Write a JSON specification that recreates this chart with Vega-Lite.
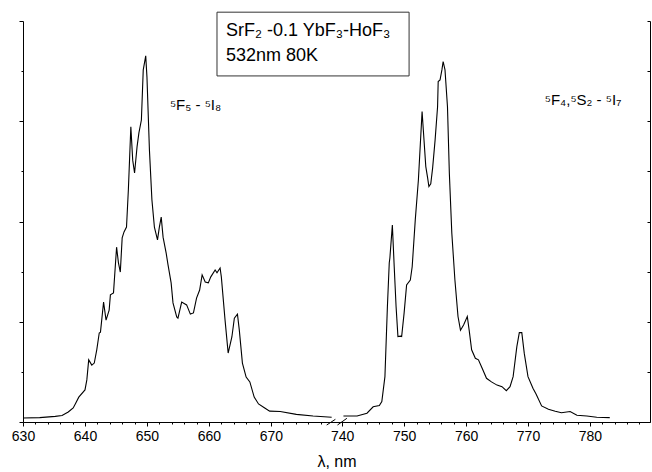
{
  "$schema": "https://vega.github.io/schema/vega-lite/v6.json",
  "width": 627,
  "height": 401,
  "autosize": "none",
  "padding": {"left": 23, "top": 21, "right": 2, "bottom": 50},
  "background": "white",
  "config": {
    "view": {"stroke": null},
    "font": "Liberation Sans",
    "axis": {"domainColor": "black", "tickColor": "black", "labelColor": "black", "titleColor": "black", "grid": false, "labelFont": "Liberation Sans", "titleFont": "Liberation Sans", "domainWidth": 1, "tickWidth": 1}
  },
  "datasets": {
    "spectrum": [
      {"band": "a", "wl": 630.0, "I": 1.0}, {"band": "a", "wl": 632.7, "I": 1.1}, {"band": "a", "wl": 635.2, "I": 1.4}, {"band": "a", "wl": 636.3, "I": 1.6},
      {"band": "a", "wl": 637.3, "I": 2.5}, {"band": "a", "wl": 638.1, "I": 3.5}, {"band": "a", "wl": 638.5, "I": 4.7}, {"band": "a", "wl": 639.0, "I": 6.2},
      {"band": "a", "wl": 640.0, "I": 8.0}, {"band": "a", "wl": 640.3, "I": 10.5}, {"band": "a", "wl": 640.6, "I": 15.5}, {"band": "a", "wl": 641.1, "I": 14.2},
      {"band": "a", "wl": 641.5, "I": 14.7}, {"band": "a", "wl": 641.9, "I": 18.0}, {"band": "a", "wl": 642.3, "I": 22.2}, {"band": "a", "wl": 642.5, "I": 22.4},
      {"band": "a", "wl": 643.0, "I": 29.9}, {"band": "a", "wl": 643.4, "I": 25.4}, {"band": "a", "wl": 643.9, "I": 27.9}, {"band": "a", "wl": 644.1, "I": 31.7},
      {"band": "a", "wl": 644.6, "I": 32.2}, {"band": "a", "wl": 645.1, "I": 43.6}, {"band": "a", "wl": 645.4, "I": 39.7}, {"band": "a", "wl": 645.7, "I": 37.4},
      {"band": "a", "wl": 646.0, "I": 45.9}, {"band": "a", "wl": 646.3, "I": 47.4}, {"band": "a", "wl": 646.7, "I": 48.6}, {"band": "a", "wl": 647.0, "I": 57.9},
      {"band": "a", "wl": 647.4, "I": 73.6}, {"band": "a", "wl": 647.7, "I": 65.3}, {"band": "a", "wl": 648.0, "I": 62.1}, {"band": "a", "wl": 648.4, "I": 68.6},
      {"band": "a", "wl": 648.7, "I": 72.1}, {"band": "a", "wl": 649.1, "I": 75.3}, {"band": "a", "wl": 649.4, "I": 87.8}, {"band": "a", "wl": 649.8, "I": 91.3},
      {"band": "a", "wl": 650.0, "I": 86.0}, {"band": "a", "wl": 650.4, "I": 67.8}, {"band": "a", "wl": 650.8, "I": 55.4}, {"band": "a", "wl": 651.2, "I": 48.6},
      {"band": "a", "wl": 651.7, "I": 45.4}, {"band": "a", "wl": 652.0, "I": 48.6}, {"band": "a", "wl": 652.3, "I": 51.1}, {"band": "a", "wl": 652.6, "I": 46.1},
      {"band": "a", "wl": 653.1, "I": 42.1}, {"band": "a", "wl": 653.4, "I": 39.2}, {"band": "a", "wl": 653.9, "I": 34.7}, {"band": "a", "wl": 654.2, "I": 29.7},
      {"band": "a", "wl": 654.8, "I": 26.2}, {"band": "a", "wl": 655.0, "I": 25.9}, {"band": "a", "wl": 655.6, "I": 29.9}, {"band": "a", "wl": 656.4, "I": 29.2},
      {"band": "a", "wl": 657.0, "I": 26.9}, {"band": "a", "wl": 657.5, "I": 27.2}, {"band": "a", "wl": 658.0, "I": 30.9}, {"band": "a", "wl": 658.5, "I": 32.9},
      {"band": "a", "wl": 658.9, "I": 36.7}, {"band": "a", "wl": 659.4, "I": 34.9}, {"band": "a", "wl": 659.9, "I": 34.7}, {"band": "a", "wl": 660.3, "I": 36.2},
      {"band": "a", "wl": 661.0, "I": 37.9}, {"band": "a", "wl": 661.3, "I": 37.2}, {"band": "a", "wl": 661.8, "I": 38.4}, {"band": "a", "wl": 662.0, "I": 36.2},
      {"band": "a", "wl": 662.6, "I": 25.4}, {"band": "a", "wl": 663.1, "I": 17.2}, {"band": "a", "wl": 663.7, "I": 21.2}, {"band": "a", "wl": 664.1, "I": 25.9},
      {"band": "a", "wl": 664.6, "I": 26.9}, {"band": "a", "wl": 664.9, "I": 22.9}, {"band": "a", "wl": 665.4, "I": 14.7}, {"band": "a", "wl": 666.0, "I": 11.2},
      {"band": "a", "wl": 666.6, "I": 10.0}, {"band": "a", "wl": 667.3, "I": 6.2}, {"band": "a", "wl": 668.0, "I": 4.5}, {"band": "a", "wl": 669.0, "I": 3.5},
      {"band": "a", "wl": 669.8, "I": 2.7}, {"band": "a", "wl": 671.5, "I": 2.6}, {"band": "a", "wl": 674.1, "I": 1.9}, {"band": "a", "wl": 676.8, "I": 1.5},
      {"band": "a", "wl": 679.8, "I": 1.2},
      {"band": "b", "wl": 740.2, "I": 1.5}, {"band": "b", "wl": 742.4, "I": 1.5}, {"band": "b", "wl": 744.0, "I": 2.2}, {"band": "b", "wl": 745.0, "I": 3.8},
      {"band": "b", "wl": 746.0, "I": 4.1}, {"band": "b", "wl": 746.4, "I": 5.1}, {"band": "b", "wl": 746.9, "I": 11.3}, {"band": "b", "wl": 747.3, "I": 28.8},
      {"band": "b", "wl": 747.6, "I": 39.7}, {"band": "b", "wl": 747.7, "I": 40.9}, {"band": "b", "wl": 748.1, "I": 49.1}, {"band": "b", "wl": 748.4, "I": 38.7},
      {"band": "b", "wl": 748.7, "I": 28.8}, {"band": "b", "wl": 749.0, "I": 21.3}, {"band": "b", "wl": 749.4, "I": 21.4}, {"band": "b", "wl": 749.6, "I": 21.3},
      {"band": "b", "wl": 750.0, "I": 27.2}, {"band": "b", "wl": 750.4, "I": 34.2}, {"band": "b", "wl": 751.0, "I": 35.4}, {"band": "b", "wl": 751.3, "I": 38.7},
      {"band": "b", "wl": 751.8, "I": 50.4}, {"band": "b", "wl": 752.3, "I": 60.3}, {"band": "b", "wl": 752.9, "I": 77.4}, {"band": "b", "wl": 753.1, "I": 72.8},
      {"band": "b", "wl": 753.5, "I": 63.7}, {"band": "b", "wl": 753.8, "I": 60.8}, {"band": "b", "wl": 754.0, "I": 58.7}, {"band": "b", "wl": 754.3, "I": 59.4},
      {"band": "b", "wl": 754.6, "I": 63.3}, {"band": "b", "wl": 755.0, "I": 70.3}, {"band": "b", "wl": 755.4, "I": 78.6}, {"band": "b", "wl": 755.5, "I": 84.9},
      {"band": "b", "wl": 755.8, "I": 85.3}, {"band": "b", "wl": 756.1, "I": 87.8}, {"band": "b", "wl": 756.3, "I": 89.9}, {"band": "b", "wl": 756.6, "I": 87.8},
      {"band": "b", "wl": 757.0, "I": 78.6}, {"band": "b", "wl": 757.3, "I": 62.1}, {"band": "b", "wl": 757.7, "I": 47.1}, {"band": "b", "wl": 758.2, "I": 35.4},
      {"band": "b", "wl": 758.7, "I": 26.3}, {"band": "b", "wl": 759.1, "I": 22.9}, {"band": "b", "wl": 759.6, "I": 24.2}, {"band": "b", "wl": 760.2, "I": 26.3},
      {"band": "b", "wl": 760.5, "I": 22.9}, {"band": "b", "wl": 760.9, "I": 18.0}, {"band": "b", "wl": 761.5, "I": 15.9}, {"band": "b", "wl": 762.0, "I": 15.5},
      {"band": "b", "wl": 762.6, "I": 13.4}, {"band": "b", "wl": 763.3, "I": 10.9}, {"band": "b", "wl": 764.1, "I": 10.0}, {"band": "b", "wl": 765.0, "I": 9.2},
      {"band": "b", "wl": 765.8, "I": 8.8}, {"band": "b", "wl": 766.5, "I": 7.8}, {"band": "b", "wl": 767.1, "I": 8.8}, {"band": "b", "wl": 767.6, "I": 11.3},
      {"band": "b", "wl": 768.2, "I": 18.8}, {"band": "b", "wl": 768.6, "I": 22.3}, {"band": "b", "wl": 769.0, "I": 22.3}, {"band": "b", "wl": 769.4, "I": 17.1},
      {"band": "b", "wl": 770.0, "I": 11.3}, {"band": "b", "wl": 770.8, "I": 8.4}, {"band": "b", "wl": 771.3, "I": 7.0}, {"band": "b", "wl": 772.2, "I": 4.0},
      {"band": "b", "wl": 773.3, "I": 3.2}, {"band": "b", "wl": 774.4, "I": 2.7}, {"band": "b", "wl": 775.4, "I": 2.3}, {"band": "b", "wl": 776.8, "I": 2.6},
      {"band": "b", "wl": 777.9, "I": 1.7}, {"band": "b", "wl": 779.5, "I": 1.5}, {"band": "b", "wl": 781.1, "I": 1.2}, {"band": "b", "wl": 783.2, "I": 1.1}
    ],
    "brk": [
      {"x1": 679.0, "x2": 680.4, "y1": -0.75, "y2": 0.67},
      {"x1": 739.24, "x2": 740.76, "y1": -0.75, "y2": 0.92}
    ],
    "box": [
      {"x1": 661.3, "x2": 750.8, "y1": 86.3, "y2": 102.2}
    ],
    "boxtext": [
      {"t": "SrF₂ -0.1 YbF₃-HoF₃", "x": 662.75, "y": 96.2},
      {"t": "532nm 80K", "x": 662.75, "y": 90.0}
    ],
    "labels": [
      {"t": "⁵F₅ - ⁵I₈", "x": 653.7, "y": 77.9},
      {"t": "⁵F₄,⁵S₂ - ⁵I₇", "x": 772.7, "y": 79.05}
    ]
  },
  "layer": [
    {
      "data": {"name": "spectrum"},
      "mark": {"type": "line", "color": "black", "strokeWidth": 1.1},
      "encoding": {
        "x": {
          "field": "wl", "type": "quantitative",
          "scale": {"domain": [630, 680.5, 739, 789.7], "range": [0, 313, 313, 627], "nice": false, "zero": false},
          "axis": {"orient": "bottom", "values": [630, 640, 650, 660, 670, 740, 750, 760, 770, 780], "format": "d", "title": "λ, nm", "labelFontSize": 14, "titleFontSize": 16, "titleFontWeight": "normal", "tickSize": 4, "labelPadding": 3, "titlePadding": 10, "labelOverlap": false, "labelFlush": false, "labelBound": false}
        },
        "y": {
          "field": "I", "type": "quantitative",
          "scale": {"domain": [0, 100], "nice": false, "zero": false},
          "axis": {"orient": "left", "values": [0, 25, 50, 75, 100], "labels": false, "title": null, "tickSize": 4}
        },
        "detail": {"field": "band"}
      }
    },
    {
      "data": {"name": "brk"},
      "mark": {"type": "rule", "color": "black", "strokeWidth": 1},
      "encoding": {
        "x": {
          "field": "x1", "type": "quantitative",
          "axis": {"orient": "bottom", "values": [632, 634, 636, 638, 642, 644, 646, 648, 652, 654, 656, 658, 662, 664, 666, 668, 672, 674, 676, 678, 742, 744, 746, 748, 752, 754, 756, 758, 762, 764, 766, 768, 772, 774, 776, 778, 782, 784, 786, 788], "labels": false, "domain": false, "title": null, "tickSize": 2}
        },
        "x2": {"field": "x2"},
        "y": {
          "field": "y1", "type": "quantitative",
          "axis": {"orient": "left", "values": [12.5, 37.5, 62.5, 87.5], "labels": false, "domain": false, "title": null, "tickSize": 2}
        },
        "y2": {"field": "y2"}
      }
    },
    {
      "data": {"name": "box"},
      "mark": {"type": "rect", "fill": "white", "fillOpacity": 0, "stroke": "#333333", "strokeWidth": 1},
      "encoding": {
        "x": {"field": "x1", "type": "quantitative", "axis": null},
        "x2": {"field": "x2"},
        "y": {"field": "y1", "type": "quantitative", "axis": {"orient": "right", "values": [0, 12.5, 25, 37.5, 50, 62.5, 75, 87.5, 100], "labels": false, "title": null, "tickSize": -3}},
        "y2": {"field": "y2"}
      }
    },
    {
      "data": {"name": "boxtext"},
      "mark": {"type": "text", "align": "left", "baseline": "alphabetic", "fontSize": 18, "font": "Liberation Sans", "color": "black"},
      "encoding": {
        "x": {"field": "x", "type": "quantitative", "axis": null},
        "y": {"field": "y", "type": "quantitative", "axis": null},
        "text": {"field": "t"}
      }
    },
    {
      "data": {"name": "labels"},
      "mark": {"type": "text", "align": "left", "baseline": "alphabetic", "fontSize": 15, "font": "Liberation Sans", "color": "black"},
      "encoding": {
        "x": {"field": "x", "type": "quantitative", "axis": null},
        "y": {"field": "y", "type": "quantitative", "axis": null},
        "text": {"field": "t"}
      }
    }
  ],
  "resolve": {"axis": {"x": "independent", "y": "independent"}}
}
